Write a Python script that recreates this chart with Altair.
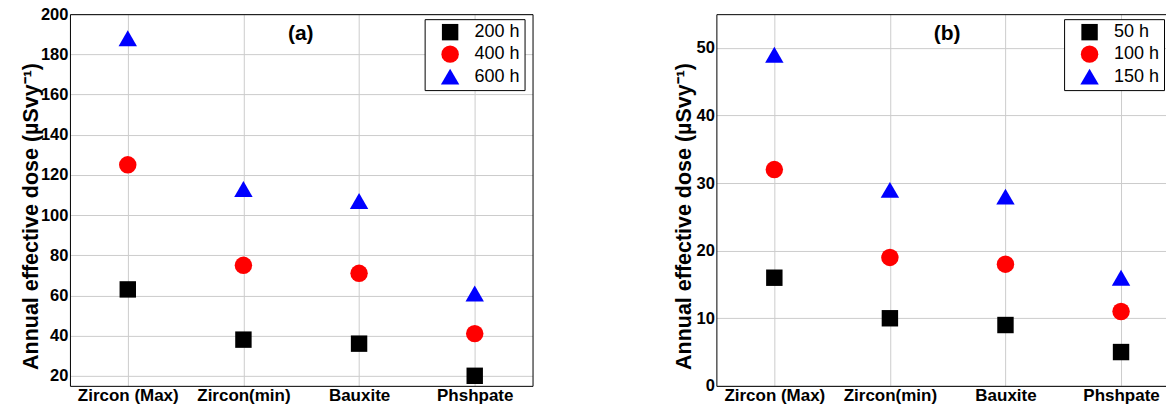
import altair as alt
import pandas as pd

categories = ["Zircon (Max)", "Zircon(min)", "Bauxite", "Phshpate"]

a_labels = ["200 h", "400 h", "600 h"]
a_200 = [63, 38, 36, 20]
a_400 = [125, 75, 71, 41]
a_600 = [188, 113, 107, 61]

b_labels = ["50 h", "100 h", "150 h"]
b_50 = [16, 10, 9, 5]
b_100 = [32, 19, 18, 11]
b_150 = [49, 29, 28, 16]

a_ticks = [20, 40, 60, 80, 100, 120, 140, 160, 180, 200]
b_ticks = [0, 10, 20, 30, 40, 50]

colors = ["#000000", "#ff0000", "#0000ff"]
shapes = ["square", "circle", "triangle-up"]
sizes = [270, 340, 460]
FONT = "Liberation Sans"
Y_TITLE = "Annual effective dose (µSvy⁻¹)"
H = 372


def make_df(labels, series):
    rows = []
    for lab, vals in zip(labels, series):
        for c, v in zip(categories, vals):
            rows.append({"material": c, "series": lab, "dose": v})
    return pd.DataFrame(rows)


def panel(df, labels, ydomain, yticks, tag, width, xpad, xalign, legx, title_x, framed):
    leg = alt.Legend(
        title=".", titleOrient="left", titleFontSize=1, titlePadding=11,
        titleColor="white",
        orient="none", legendX=legx, legendY=5,
        fillColor="white", strokeColor="black", padding=4,
        labelOffset=15, rowPadding=4,
        labelFont=FONT, labelFontSize=18, labelColor="black",
        symbolStrokeWidth=0, symbolOpacity=1,
    )
    xscale = alt.Scale(domain=categories, padding=xpad, align=xalign)
    yscale = alt.Scale(domain=ydomain, nice=False, zero=False)
    pts = alt.Chart(df).mark_point(filled=True, opacity=1, strokeWidth=0).encode(
        x=alt.X("material:N", sort=categories, scale=xscale,
                axis=alt.Axis(title=None, labelAngle=0, ticks=False,
                              labelFont=FONT, labelFontSize=17,
                              labelFontWeight="bold", labelColor="black",
                              labelPadding=2, domainColor="black",
                              gridColor="#cccccc", grid=True)),
        y=alt.Y("dose:Q", scale=yscale,
                axis=alt.Axis(title=Y_TITLE, values=yticks, ticks=False,
                              labelFont=FONT, labelFontSize=16.5,
                              labelFontWeight="bold", labelColor="black",
                              labelPadding=2, titleFont=FONT, titleFontSize=21.5,
                              titleFontWeight="bold", titleColor="black",
                              titleX=title_x, titleY=202,
                              domainColor="black",
                              gridColor="#cccccc", grid=True)),
        color=alt.Color("series:N", sort=labels,
                        scale=alt.Scale(domain=labels, range=colors), legend=leg),
        shape=alt.Shape("series:N", sort=labels,
                        scale=alt.Scale(domain=labels, range=shapes), legend=leg),
        size=alt.Size("series:N", sort=labels,
                      scale=alt.Scale(domain=labels, range=sizes), legend=leg),
    )
    frame_axis = dict(title=None, labels=False, ticks=False, grid=False,
                      domainColor="black", domainWidth=1)
    ghost = alt.Chart(df).mark_point(opacity=0).encode(
        x=alt.X("material:N", sort=categories, scale=xscale,
                axis=alt.Axis(orient="top", **frame_axis)),
        y=alt.Y("dose:Q", scale=yscale,
                axis=alt.Axis(orient="right", **frame_axis) if framed else None),
    )
    one = pd.DataFrame({"t": [tag]})
    txt = alt.Chart(one).mark_text(
        font=FONT, fontSize=21, fontWeight="bold", color="black"
    ).encode(text="t:N", x=alt.value(231), y=alt.value(20))
    return alt.layer(pts, ghost, txt).resolve_axis(
        x="independent", y="independent"
    ).properties(width=width, height=H)


left = panel(make_df(a_labels, [a_200, a_400, a_600]), a_labels, [15, 200], a_ticks,
             "(a)", 463, 0.5, 0.5, 355, -27, True)
right = panel(make_df(b_labels, [b_50, b_100, b_150]), b_labels, [0, 55], b_ticks,
              "(b)", 450, 0.4452, 0.5631, 348, -21, False)

chart = alt.hconcat(left, right, spacing=141).resolve_scale(
    color="independent", shape="independent", size="independent"
).properties(
    padding={"left": 13, "top": -2, "right": 0, "bottom": 0}
).configure_view(strokeWidth=0)

chart.save("out.html", embed_options={"renderer": "svg", "actions": False})
